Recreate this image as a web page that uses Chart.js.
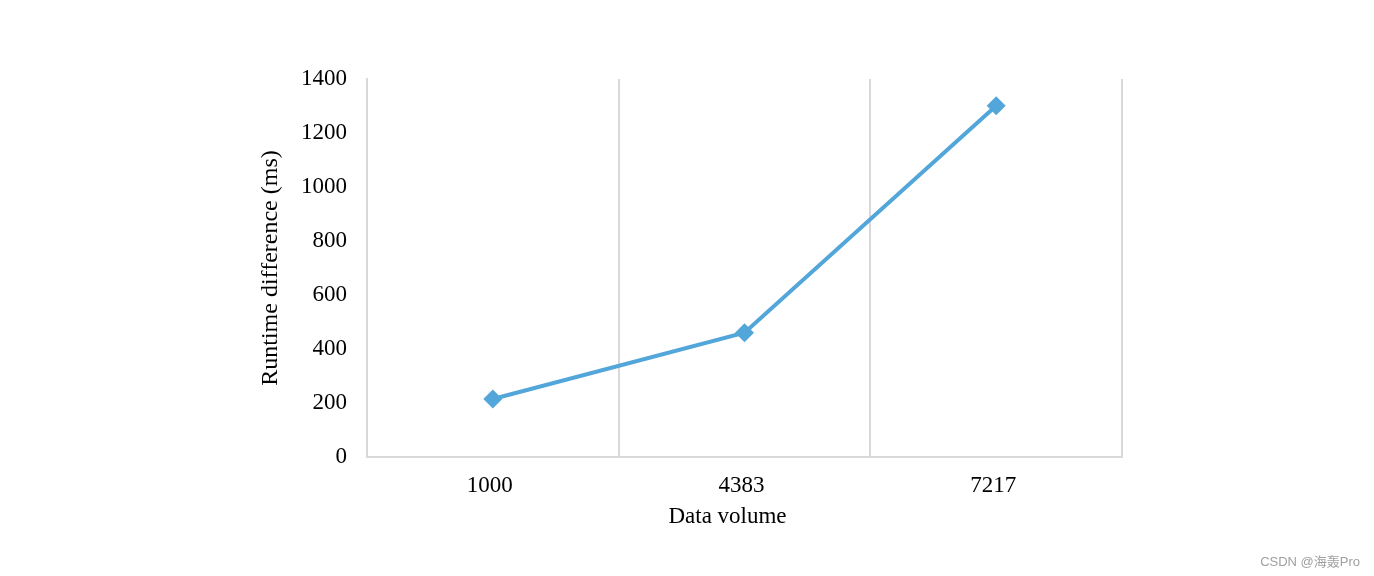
<!DOCTYPE html>
<html><head><meta charset="utf-8">
<script src="https://cdn.jsdelivr.net/npm/chart.js@4/dist/chart.umd.min.js"></script>
<style>
html,body{margin:0;padding:0;background:#fff;}
#wrap{position:relative;width:1374px;height:576px;}
#wm{position:absolute;right:14px;top:551px;font-family:"Liberation Sans","Noto Sans CJK SC",sans-serif;font-size:13px;color:#a0a0a0;white-space:nowrap;}
</style></head>
<body><div id="wrap"><canvas id="c" width="1374" height="576"></canvas><div id="wm">CSDN @海轰Pro</div></div>
<script>
const categories = ['1000', '4383', '7217'];
const runtimeDiff = [215, 460, 1301];
const yTicks = [0, 200, 400, 600, 800, 1000, 1200, 1400];
const xTitle = 'Data volume';
const yTitle = 'Runtime difference (ms)';

const serif = "'Liberation Serif','Times New Roman',serif";
const gridCol = '#d9d9d9';
const lineCol = '#53a6d9';
const fs = 23;

const xTitlePlugin = {
  id: 'xTitle',
  afterDraw(chart) {
    const ctx = chart.ctx, a = chart.chartArea;
    ctx.save();
    ctx.font = fs + 'px ' + serif;
    ctx.fillStyle = '#000';
    ctx.textAlign = 'center';
    ctx.textBaseline = 'middle';
    ctx.fillText(xTitle, (a.left + a.right) / 2 - 17, 517);
    ctx.restore();
  }
};

new Chart(document.getElementById('c'), {
  type: 'line',
  data: {
    labels: categories,
    datasets: [{
      data: runtimeDiff,
      borderColor: lineCol,
      backgroundColor: lineCol,
      borderWidth: 4,
      pointStyle: 'rectRot',
      pointRadius: 9.5,
      pointHoverRadius: 9.5,
      pointBorderWidth: 0,
      tension: 0
    }]
  },
  plugins: [xTitlePlugin],
  options: {
    responsive: false,
    animation: false,
    devicePixelRatio: 1,
    plugins: { legend: { display: false }, tooltip: { enabled: false } },
    layout: { padding: { left: 256, right: 252, top: 79, bottom: 0 } },
    scales: {
      x: {
        offset: true,
        grid: { offset: true, color: gridCol, lineWidth: 2, drawTicks: false },
        border: { display: true, color: gridCol, width: 2 },
        ticks: { color: '#000', font: { family: serif, size: fs }, padding: 15, labelOffset: -3 },
        title: { display: false },
        afterFit: s => { s.height = 119; }
      },
      y: {
        min: 0, max: 1400,
        afterBuildTicks: s => { s.ticks = yTicks.map(v => ({ value: v })); },
        grid: { display: false, drawTicks: false },
        border: { display: true, color: gridCol, width: 2 },
        ticks: { color: '#000', font: { family: serif, size: fs }, padding: 20, callback: v => String(v) },
        title: { display: true, text: yTitle, color: '#000', font: { family: serif, size: 24 }, padding: 0 },
        afterFit: s => { s.width = 111; }
      }
    }
  }
});
</script></body></html>
